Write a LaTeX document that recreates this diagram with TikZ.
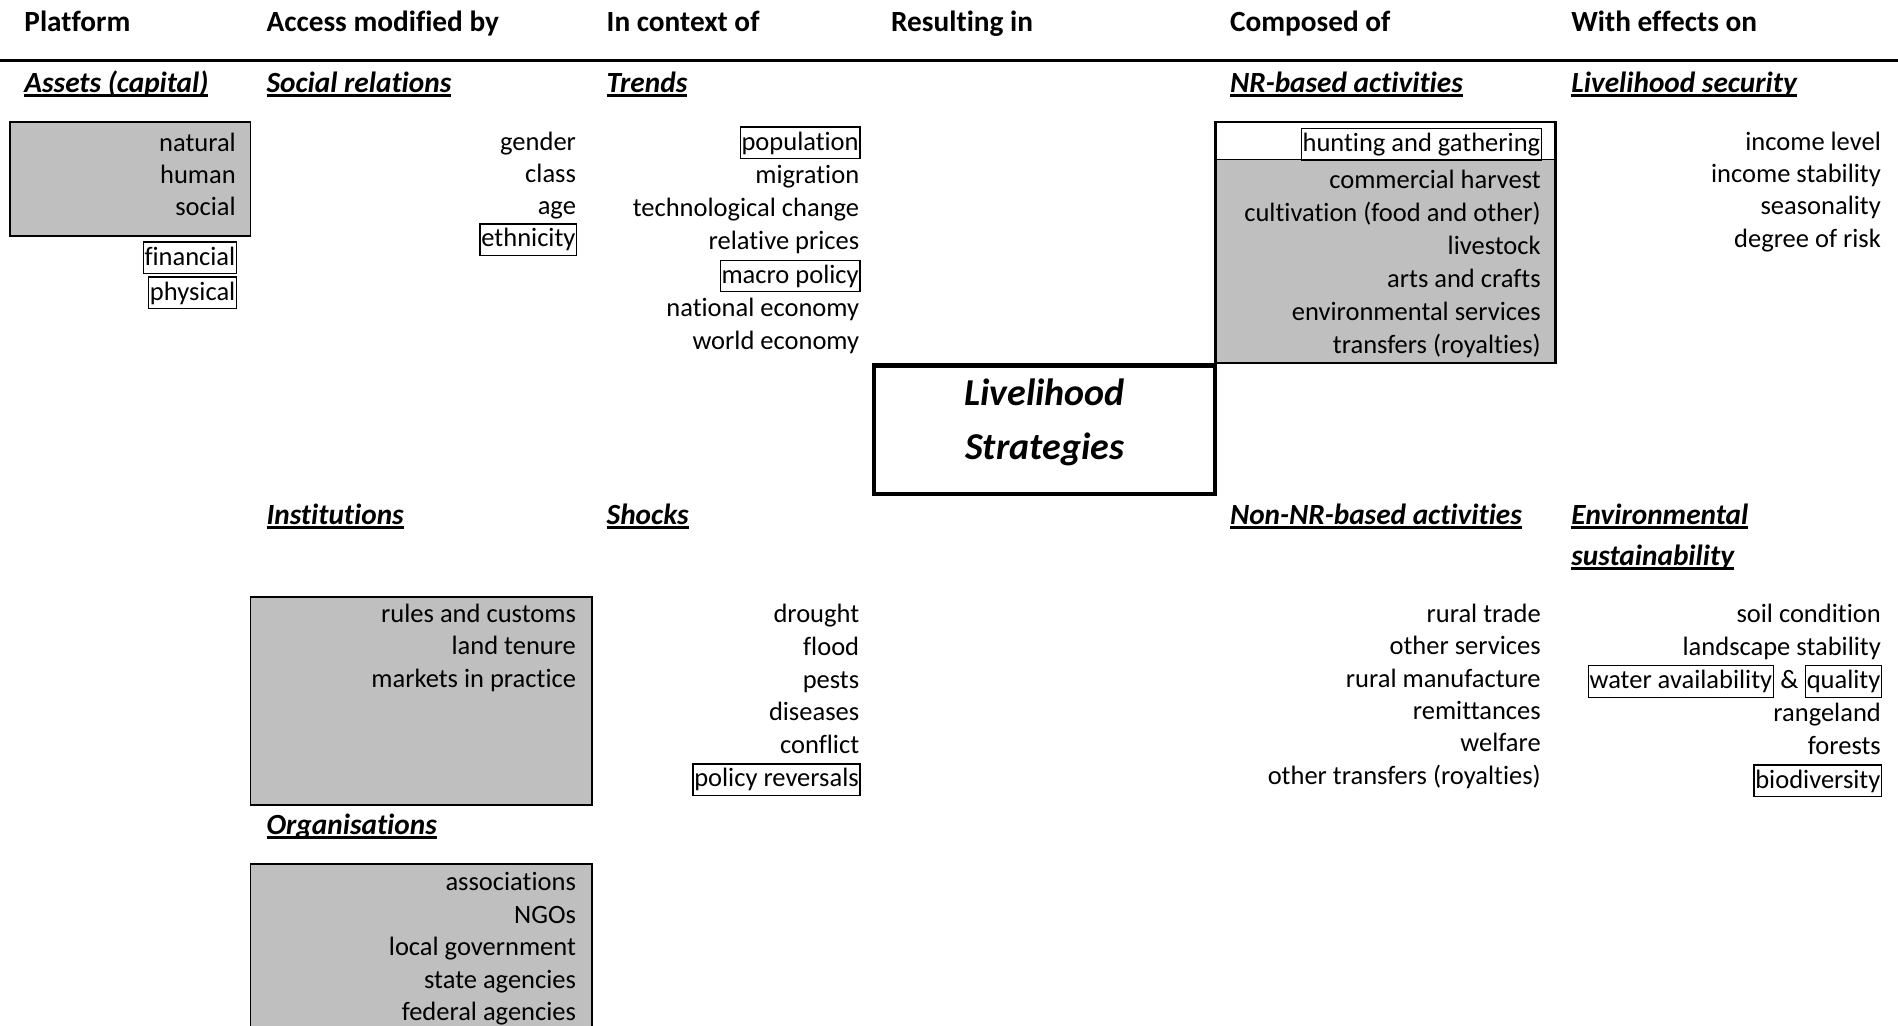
\documentclass[tikz,border=0pt]{standalone}
\usepackage{fontspec}
\setmainfont{Carlito}[Ligatures={NoCommon,NoContextual},Contextuals={NoAlternate}]
\definecolor{cellgrey}{RGB}{191,191,191}
\newsavebox\ulbox
\newcommand\ulx[1]{\sbox\ulbox{#1}\rlap{\rule[-3.8pt]{\wd\ulbox}{2pt}}\usebox\ulbox}
\begin{document}
\begin{tikzpicture}[x=1pt,y=-1pt,
  every node/.style={inner sep=0pt},
  item/.style={anchor=base east,font=\fontsize{21.9}{26}\selectfont},
  head/.style={anchor=base west,font=\fontsize{24.2}{28}\selectfont\bfseries},
  sub/.style={anchor=base west,font=\fontsize{24.2}{28}\selectfont\bfseries\itshape},
  wordbox/.style={item,draw,line width=1.2pt,inner xsep=1pt,inner ysep=1pt,text height=18pt,text depth=6pt},
  greybox/.style={fill=cellgrey,draw,line width=1.5pt}]
  \useasboundingbox (0,0) rectangle (1568,847);
  \clip (0,0) rectangle (1568,847);
  % column heads and rule
  \node[head] (h-plat) at (20,26) {Platform};
  \node[head] (h-acc) at (220,26) {Access modified by};
  \node[head] (h-ctx) at (501,26) {In context of};
  \node[head] (h-res) at (736,26) {Resulting in};
  \node[head] (h-comp) at (1016,26) {Composed of};
  \node[head] (h-eff) at (1298,26) {With effects on};
  \draw[line width=2.5pt] (0,50) -- (1568,50);
  % platform: assets
  \node[sub] (assets) at (20,76) {\ulx{Assets (capital)}};
  \draw[greybox] (8,101) rectangle (207,195);
  \foreach \w [count=\i from 0] in {natural,human,social}
    \node[item] (asset-\i) at (195,125+26.7*\i) {\w};
  \node[wordbox] (fin) at (196,219) {financial};
  \node[wordbox] (phys) at (196,248) {physical};
  % access: social relations
  \node[sub] (social) at (220,76) {\ulx{Social relations}};
  \foreach \w [count=\i from 0] in {gender,class,age}
    \node[item] (soc-\i) at (476,124+26.7*\i) {\w};
  \node[wordbox] (ethn) at (477,204) {ethnicity};
  % context: trends
  \node[sub] (trends) at (501,76) {\ulx{Trends}};
  \node[wordbox] (trend-0) at (711,124) {population};
  \foreach \i/\w in {1/migration,2/technological change,3/relative prices,5/national economy,6/world economy}
    \node[item] (trend-\i) at (710,124+27.5*\i) {\w};
  \node[wordbox] (trend-4) at (711,234) {macro policy};
  % composed of: NR-based
  \node[sub] (nr) at (1016,76) {\ulx{NR-based activities}};
  \fill[cellgrey] (1004,132) rectangle (1285,300);
  \draw[line width=0.8pt] (1004,132) -- (1285,132);
  \draw[line width=2pt] (1004,101) rectangle (1285,300);
  \node[wordbox,fill=white] (hunt) at (1274,125) {hunting and gathering};
  \foreach \w [count=\i from 0] in {commercial harvest,cultivation (food and other),livestock,arts and crafts,environmental services,transfers (royalties)}
    \node[item] (nr-\i) at (1273,156+27.2*\i) {\w};
  % effects: livelihood security
  \node[sub] (sec) at (1298,76) {\ulx{Livelihood security}};
  \foreach \w [count=\i from 0] in {income level,income stability,seasonality,degree of risk}
    \node[item] (sec-\i) at (1554,124+26.7*\i) {\w};
  % livelihood strategies
  \node[draw,line width=3.5pt,minimum width=282pt,minimum height=106pt] (ls) at (863,355) {};
  \node[align=center,font=\fontsize{31.4}{44}\selectfont\bfseries\itshape] (ls-txt) at (863,349) {Livelihood\\Strategies};
  % access: institutions, organisations
  \node[sub] (inst) at (220,433) {\ulx{Institutions}};
  \draw[greybox] (207,493) rectangle (489,665);
  \foreach \w [count=\i from 0] in {rules and customs,land tenure,markets in practice}
    \node[item] (inst-\i) at (476,514+26.9*\i) {\w};
  \node[sub] (org) at (220,689) {\ulx{Organisations}};
  \draw[greybox] (207,714) rectangle (489,870);
  \foreach \w [count=\i from 0] in {associations,NGOs,local government,state agencies,federal agencies}
    \node[item] (org-\i) at (476,736+26.8*\i) {\w};
  % context: shocks
  \node[sub] (shocks) at (501,433) {\ulx{Shocks}};
  \foreach \w [count=\i from 0] in {drought,flood,pests,diseases,conflict}
    \node[item] (shock-\i) at (710,514+27.2*\i) {\w};
  \node[wordbox] (shock-5) at (711,650) {policy reversals};
  % composed of: non-NR
  \node[sub] (nonnr) at (1016,433) {\ulx{Non-NR-based activities}};
  \foreach \w [count=\i from 0] in {rural trade,other services,rural manufacture,remittances,welfare,other transfers (royalties)}
    \node[item] (non-\i) at (1273,514+26.8*\i) {\w};
  % effects: environmental sustainability
  \node[sub] (env) at (1298,433) {\ulx{Environmental}};
  \node[sub] (env-b) at (1298,467) {\ulx{sustainability}};
  \foreach \i/\w in {0/soil condition,1/landscape stability,3/rangeland,4/forests}
    \node[item] (env-\i) at (1554,514+27.4*\i) {\w};
  \node[wordbox] (qual) at (1555,569) {quality};
  \node[item] (amp) at ([xshift=-5pt]qual.base west) {\&};
  \node[wordbox] (water) at ([xshift=-5pt]amp.base west) {water availability};
  \node[wordbox] (env-5) at (1555,651) {biodiversity};
\end{tikzpicture}
\end{document}
